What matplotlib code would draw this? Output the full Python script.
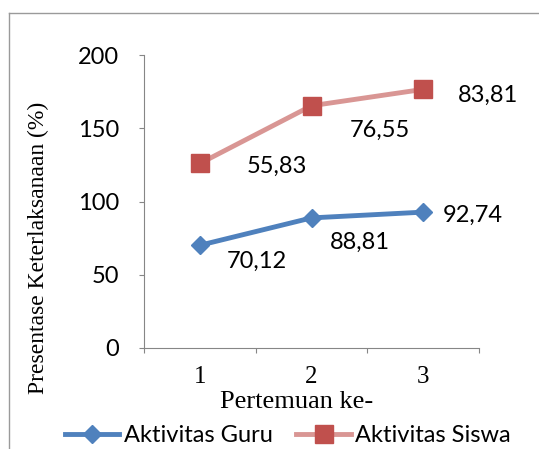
import matplotlib
matplotlib.use('Agg')
import matplotlib.pyplot as plt
from matplotlib.lines import Line2D

pertemuan = [1, 2, 3]
guru = [70.12, 88.81, 92.74]
siswa = [55.83, 76.55, 83.81]
# stacked line chart: the Siswa line sits on top of Guru
siswa_top = [g + s for g, s in zip(guru, siswa)]

# label offsets in pixels (dx, dy down)
guru_off = [(57, 16), (48, 24), (50, 3)]
siswa_off = [(77, 3), (68, 25), (65, 6)]

sans = 'Lato'
serif = 'Liberation Serif'
px = 72 / 100

fig = plt.figure(figsize=(5.39, 4.49), dpi=100)
ax = fig.add_axes([144/539, 1 - 348/449, 335/539, 293/449])

ax.plot(pertemuan, guru, color='#4F81BD', lw=3.5, marker='D', ms=9,
        label='Aktivitas Guru')
ax.plot(pertemuan, siswa_top, color='#D99694', lw=3.5, marker='s', ms=13.5,
        mfc='#C0504D', mec='#C0504D', label='Aktivitas Siswa')

for x, y, v, (dx, dy) in zip(pertemuan, guru, guru, guru_off):
    ax.annotate(f'{v:.2f}'.replace('.', ','), (x, y), xytext=(dx*px, -dy*px),
                textcoords='offset points', ha='center', va='center',
                fontsize=17, family=sans)
for x, y, v, (dx, dy) in zip(pertemuan, siswa_top, siswa, siswa_off):
    ax.annotate(f'{v:.2f}'.replace('.', ','), (x, y), xytext=(dx*px, -dy*px),
                textcoords='offset points', ha='center', va='center',
                fontsize=17, family=sans)

ax.set_xlim(0.5, 3.5)
ax.set_ylim(0, 200)
ax.set_yticks([0, 50, 100, 150, 200])
ax.set_xticks([0.5, 1.5, 2.5, 3.5])
ax.set_xticklabels([])
ax.set_xticks(pertemuan, minor=True)
ax.set_xticklabels([str(p) for p in pertemuan], minor=True,
                   family=serif, fontsize=18)
ax.tick_params(axis='x', which='major', direction='out', length=3.6,
               color='#868686')
ax.tick_params(axis='x', which='minor', length=0, pad=13)
ax.tick_params(axis='y', direction='out', length=3.6, pad=14.4,
               color='#868686', labelsize=17)
for t in ax.get_yticklabels():
    t.set_family(sans)

for s in ['top', 'right']:
    ax.spines[s].set_visible(False)
for s in ['left', 'bottom']:
    ax.spines[s].set_color('#868686')

ax.set_xlabel('Pertemuan ke-', family=serif, fontsize=19)
ax.set_ylabel('Presentase Keterlaksanaan (%)', family=serif, fontsize=17)
ax.xaxis.set_label_coords((297 - 144) / 335, (348 - 402) / 293)
ax.yaxis.set_label_coords((38 - 144) / 335, (348 - 248) / 293)
ax.xaxis.label.set_va('center')
ax.yaxis.label.set_va('center')

fig.legend(loc='center', bbox_to_anchor=(288/539, 1 - 436/449), ncol=2,
           frameon=False, prop={'family': sans, 'size': 17},
           handlelength=2.3, handletextpad=0.2, columnspacing=1.0,
           borderaxespad=0)

# chart area border (left and top edges visible)
fig.add_artist(Line2D([9/539, 9/539], [0, 1 - 13/449], color='#9a9a9a', lw=1))
fig.add_artist(Line2D([9/539, 1], [1 - 13/449, 1 - 13/449], color='#9a9a9a', lw=1))

fig.savefig('out.png', dpi=100)
